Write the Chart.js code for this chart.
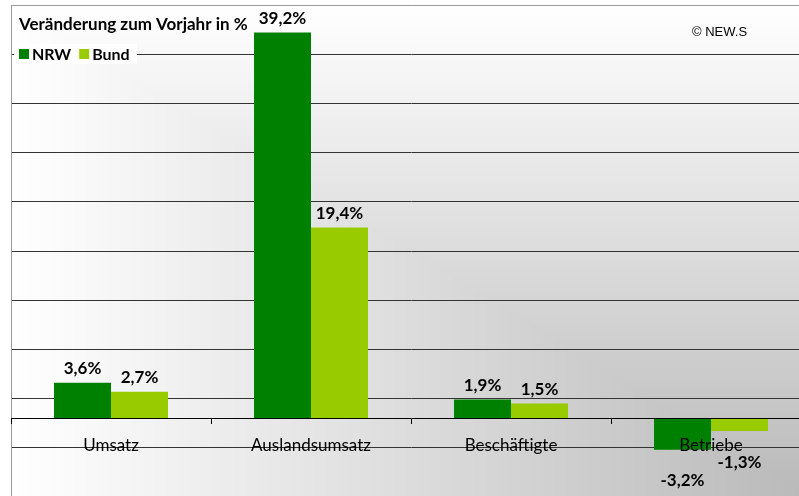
<!DOCTYPE html>
<html>
<head>
<meta charset="utf-8">
<script src="https://cdn.jsdelivr.net/npm/chart.js@4/dist/chart.umd.min.js"></script>
<style>
  html, body { margin: 0; padding: 0; background: #fff; overflow: hidden; }
  #wrap { width: 811px; height: 497px; }
</style>
</head>
<body>
<div id="wrap"><canvas id="myChart" width="811" height="497"></canvas></div>
<script>
const categories = ['Umsatz', 'Auslandsumsatz', 'Beschäftigte', 'Betriebe'];
const nrw = [3.6, 39.2, 1.9, -3.2];
const bund = [2.7, 19.4, 1.5, -1.3];
const yMin = -8, yMax = 42, yStep = 5;

const titleText = 'Veränderung zum Vorjahr in %';
const sourceText = '© NEW.S';

const fmt = v => v.toFixed(1).replace('.', ',') + '%';

// Excel-like "from corner" gradient in the plot area
const bgPlugin = {
  id: 'bg',
  beforeDraw(chart) {
    const { ctx, chartArea: a } = chart;
    const w = Math.round(a.right - a.left), h = Math.round(a.bottom - a.top);
    const img = ctx.createImageData(w, h);
    for (let y = 0; y < h; y++) {
      for (let x = 0; x < w; x++) {
        const t = Math.min(x / w, y / h);
        const c = Math.round(255 - 70 * t);
        const i = (y * w + x) * 4;
        img.data[i] = c; img.data[i + 1] = c; img.data[i + 2] = c; img.data[i + 3] = 255;
      }
    }
    ctx.putImageData(img, Math.round(a.left), Math.round(a.top));
  }
};

const labelPlugin = {
  id: 'labels',
  afterDatasetsDraw(chart) {
    const ctx = chart.ctx;
    ctx.save();
    ctx.font = 'bold 17px Lato';
    ctx.fillStyle = '#000';
    ctx.textAlign = 'center';
    ctx.textBaseline = 'middle';
    chart.data.datasets.forEach((ds, di) => {
      chart.getDatasetMeta(di).data.forEach((bar, i) => {
        const v = ds.data[i];
        const y = v >= 0 ? bar.y - 14 : bar.y + 31;
        ctx.fillText(fmt(v), bar.x, y);
      });
    });
    ctx.restore();
  },
  afterDraw(chart) {
    const ctx = chart.ctx;
    ctx.save();
    // title
    ctx.font = 'bold 17px Lato';
    ctx.fillStyle = '#000';
    ctx.textBaseline = 'alphabetic';
    ctx.textAlign = 'left';
    ctx.fillText(titleText, 19, 30);
    // source
    ctx.font = '13px "Liberation Sans"';
    ctx.fillText(sourceText, 692, 36);
    // legend
    ctx.fillStyle = '#fff';
    ctx.fillRect(14, 44, 123, 20);
    ctx.font = 'bold 16px Lato';
    let x = 19;
    chart.data.datasets.forEach(ds => {
      ctx.fillStyle = ds.backgroundColor;
      ctx.fillRect(x, 49, 10, 10);
      x += 13;
      ctx.fillStyle = '#000';
      ctx.fillText(ds.label, x, 60);
      x += ctx.measureText(ds.label).width + 8;
    });
    ctx.restore();
  }
};

const data = {
  labels: categories,
  datasets: [
    { label: 'NRW', data: nrw, backgroundColor: '#008000' },
    { label: 'Bund', data: bund, backgroundColor: '#99cc00' }
  ]
};

const config = {
  type: 'bar',
  data: data,
  options: {
    responsive: false,
    animation: false,
    layout: { padding: { left: 11, top: 5, right: 0, bottom: 0 } },
    datasets: { bar: { barPercentage: 1, categoryPercentage: 0.57 } },
    plugins: { legend: { display: false }, tooltip: { enabled: false } },
    scales: {
      x: {
        position: { y: 0 },
        grid: { drawOnChartArea: false, tickLength: 5, color: '#000', offset: true, z: 1 },
        border: { color: '#000', width: 1, z: 1 },
        ticks: { color: '#000', font: { family: 'Lato', size: 17 }, padding: 12, maxRotation: 0, z: 1 }
      },
      y: {
        min: yMin,
        max: yMax,
        ticks: { display: false, stepSize: yStep },
        grid: {
          drawTicks: false,
          color: ctx => ctx.tick && ctx.tick.value === yMax ? '#999' : '#333'
        },
        border: { color: '#999' },
        afterFit: s => { s.width = 0; }
      }
    }
  },
  plugins: [bgPlugin, labelPlugin]
};

new Chart(document.getElementById('myChart'), config);
</script>
</body>
</html>
